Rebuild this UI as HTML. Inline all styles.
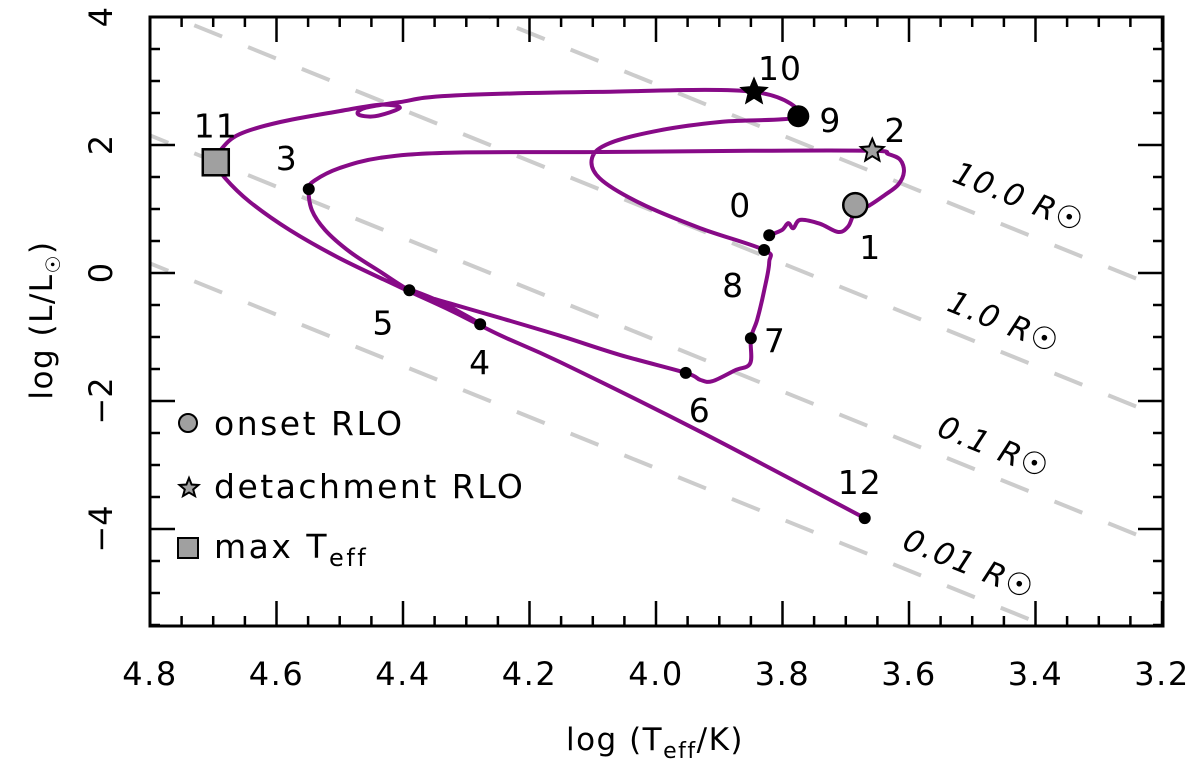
<!DOCTYPE html>
<html><head><meta charset="utf-8"><style>
html,body{margin:0;padding:0;background:#fff;width:1200px;height:765px;overflow:hidden;}
svg{display:block;font-family:"DejaVu Sans","Liberation Sans",sans-serif;}
</style></head><body>
<svg id="chart" width="1200" height="765" viewBox="0 0 1200 765">
<defs><clipPath id="clip"><rect x="150" y="17" width="1013" height="609"/></clipPath></defs>
<g id="radii" clip-path="url(#clip)"></g>
<g id="track" clip-path="url(#clip)"></g>
<g id="marks"></g>
<g id="axes"></g>
<g font-size="31" letter-spacing="1.5">
<text x="655" y="750" text-anchor="middle">log (T<tspan font-size="22" dy="8">eff</tspan><tspan dy="-8">/K)</tspan></text>
<text x="52" y="320" text-anchor="middle" transform="rotate(-90 52 320)">log (L/L<tspan font-size="20" dy="8">☉</tspan><tspan dy="-8">)</tspan></text>
<circle cx="188" cy="423" r="9" fill="#a0a0a0" stroke="#000" stroke-width="2"/>
<text x="214" y="435" font-size="33" letter-spacing="2.5">onset RLO</text>
<polygon points="189,478 191.6,484.5 198.5,485 193.2,489.5 195,496 189,492.5 183,496 184.8,489.5 179.5,485 186.4,484.5" fill="#a0a0a0" stroke="#000" stroke-width="2"/>
<text x="214" y="498" font-size="33" letter-spacing="2.5">detachment RLO</text>
<rect x="178" y="538" width="20" height="20" fill="#a0a0a0" stroke="#000" stroke-width="2"/>
<text x="214" y="558" font-size="33" letter-spacing="2.5">max T<tspan font-size="24" dy="8">eff</tspan></text>
</g>
</svg>
<script>
const xTicks = [4.8, 4.6, 4.4, 4.2, 4.0, 3.8, 3.6, 3.4, 3.2];
const yTicks = [4, 2, 0, -2, -4];
const radiusLabels = ["10.0", "1.0", "0.1", "0.01"];
const radiusOffsets = [6.15, 4.15, 2.15, 0.15];
const trackT = [3.821,3.801,3.791,3.783,3.772,3.741,3.712,3.696,3.685,3.662,3.638,3.617,3.608,3.614,3.633,3.658,3.851,4.089,4.326,4.436,4.500,4.539,4.549,4.544,4.523,4.484,4.436,4.390,4.341,4.278,4.294,4.341,4.386,4.365,4.310,4.247,4.152,4.057,3.953,3.930,3.911,3.875,3.851,3.850,3.840,3.829,3.821,3.829,3.930,4.025,4.089,4.101,4.073,3.994,3.899,3.775,3.845,4.089,4.326,4.405,4.460,4.471,4.444,4.405,4.436,4.500,4.594,4.658,4.686,4.696,4.681,4.642,4.579,4.500,4.405,4.326,4.247,4.152,3.930,3.670];
const trackL = [0.59,0.67,0.78,0.70,0.83,0.77,0.64,0.73,0.95,1.06,1.22,1.38,1.58,1.77,1.86,1.91,1.91,1.89,1.88,1.80,1.64,1.45,1.31,0.98,0.67,0.33,0.02,-0.27,-0.50,-0.80,-0.70,-0.45,-0.27,-0.36,-0.52,-0.70,-0.98,-1.28,-1.56,-1.67,-1.69,-1.52,-1.41,-1.02,-0.73,-0.27,0.17,0.36,0.70,1.09,1.48,1.80,2.03,2.23,2.36,2.45,2.83,2.83,2.77,2.67,2.58,2.48,2.45,2.58,2.63,2.53,2.36,2.17,1.95,1.73,1.48,1.11,0.67,0.23,-0.22,-0.58,-0.97,-1.39,-2.48,-3.83];
const ptLabels = ["0","1","2","3","4","5","6","7","8","9","10","11","12"];
const ptT = [3.821,3.685,3.658,4.549,4.278,4.390,3.953,3.850,3.829,3.775,3.845,4.696,3.670];
const ptL = [0.59,1.06,1.91,1.31,-0.80,-0.27,-1.56,-1.02,0.36,2.45,2.83,1.73,-3.83];

const NS="http://www.w3.org/2000/svg";
const X=v=>150+(4.8-v)*632.5;
const Y=v=>273-64*v;
function mk(tag,attrs,parent){const e=document.createElementNS(NS,tag);for(const k in attrs)e.setAttribute(k,attrs[k]);parent.appendChild(e);return e;}
const radii=document.getElementById('radii'),track=document.getElementById('track'),marks=document.getElementById('marks'),axes=document.getElementById('axes');

radiusOffsets.forEach((off,i)=>{
  const l=mk('line',{x1:X(4.9),y1:Y(off+4*(4.9-4.8)),x2:X(3.1),y2:Y(off+4*(3.1-4.8)),stroke:'#cccccc','stroke-width':4,'stroke-dasharray':'30,28'},radii);
  
  
});
const labPos=[[1015,207],[1000,332],[990,457],[965,574]];
radiusLabels.forEach((r,i)=>{
  const t=mk('text',{x:labPos[i][0],y:labPos[i][1],'font-size':31,'letter-spacing':1.5,'font-style':'italic','text-anchor':'middle',transform:`rotate(22 ${labPos[i][0]} ${labPos[i][1]})`},marks);
  t.textContent=r+" R\u2609";
  
  
});

// smooth track (Catmull-Rom)
const P=trackT.map((t,i)=>[X(t),Y(trackL[i])]);
let d='M'+P[0][0].toFixed(1)+' '+P[0][1].toFixed(1);
for(let i=0;i<P.length-1;i++){
  const p0=P[Math.max(0,i-1)],p1=P[i],p2=P[i+1],p3=P[Math.min(P.length-1,i+2)];
  const c1=[p1[0]+(p2[0]-p0[0])/6,p1[1]+(p2[1]-p0[1])/6],c2=[p2[0]-(p3[0]-p1[0])/6,p2[1]-(p3[1]-p1[1])/6];
  d+=` C${c1[0].toFixed(1)} ${c1[1].toFixed(1)} ${c2[0].toFixed(1)} ${c2[1].toFixed(1)} ${p2[0].toFixed(1)} ${p2[1].toFixed(1)}`;
}
const p=mk('path',{d:d,fill:'none',stroke:'#870a87','stroke-width':4,'stroke-linejoin':'round','stroke-linecap':'round'},track);



function star(cx,cy,R,fill){let s='';for(let k=0;k<10;k++){const r=k%2?R*0.45:R;const a=-Math.PI/2+k*Math.PI/5;s+=(cx+r*Math.cos(a)).toFixed(1)+','+(cy+r*Math.sin(a)).toFixed(1)+' ';}return mk('polygon',{points:s,fill:fill,stroke:'#000','stroke-width':2},marks);}
const labOff=[[-29,-30],[15,42],[23,-21],[-22,-31],[0,38],[-26,32],[14,37],[24,2],[-31,35],[32,4],[26,-24],[0,-37],[-5,-36]];
ptT.forEach((t,i)=>{
  const cx=X(t),cy=Y(ptL[i]);let m;
  if(i===1)m=mk('circle',{cx,cy,r:12,fill:'#a0a0a0',stroke:'#000','stroke-width':2.5},marks);
  else if(i===2)m=star(cx,cy,12,'#a0a0a0');
  else if(i===9)m=mk('circle',{cx,cy,r:11,fill:'#000'},marks);
  else if(i===10)m=star(cx,cy,13,'#000');
  else if(i===11)m=mk('rect',{x:cx-13,y:cy-13,width:26,height:26,fill:'#a0a0a0',stroke:'#000','stroke-width':2.5},marks);
  else m=mk('circle',{cx,cy,r:6,fill:'#000'},marks);
  
  
  const tx=mk('text',{x:cx+labOff[i][0],y:cy+labOff[i][1]+12,'font-size':33,'letter-spacing':1,'text-anchor':'middle'},marks);
  tx.textContent=ptLabels[i];
  
  
});

const fr=mk('rect',{x:150,y:17,width:1013,height:609,fill:'none',stroke:'#000','stroke-width':3},axes);


let td='';
for(let k=0;k<=32;k++){const v=4.8-k*0.05;const x=X(v).toFixed(1);const len=k%4===0?25:10;td+=`M${x} 626V${626-len}M${x} 17V${17+len}`;}
for(let k=0;k<=19;k++){const v=-5.5+k*0.5;const y=Y(v).toFixed(1);const len=(k-3)%4===0?25:10;td+=`M150 ${y}H${150+len}M1163 ${y}H${1163-len}`;}
const tk=mk('path',{d:td,stroke:'#000','stroke-width':2.5,fill:'none'},axes);


xTicks.forEach(v=>{const t=mk('text',{x:X(v),y:685,'font-size':32,'letter-spacing':1.5,'text-anchor':'middle'},axes);t.textContent=v.toFixed(1);
  
  });
yTicks.forEach(v=>{const x=112,y=Y(v);const t=mk('text',{x,y,'font-size':32,'text-anchor':'middle',transform:`rotate(-90 ${x} ${y})`},axes);t.textContent=v<0?'\u2212'+(-v):String(v);
  
  });
</script>
</body></html>
